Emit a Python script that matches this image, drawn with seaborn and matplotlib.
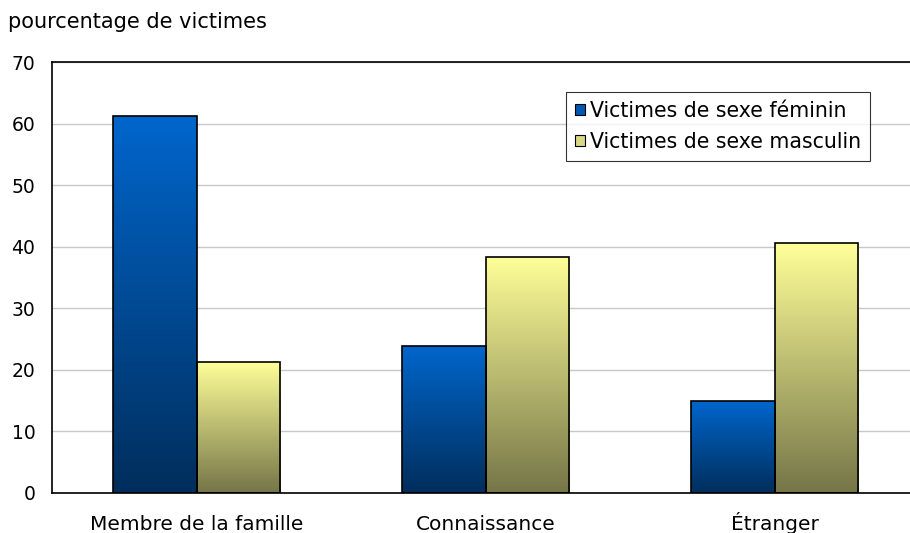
import numpy as np
import pandas as pd
import seaborn as sns
import matplotlib.pyplot as plt
from matplotlib.colors import LinearSegmentedColormap
from matplotlib.patches import Patch

sns.set_style("white")
plt.rcParams['font.family'] = ['DejaVu Sans']
plt.rcParams['text.color'] = 'black'
plt.rcParams['xtick.color'] = 'black'
plt.rcParams['ytick.color'] = 'black'

# data
categories = ["Membre de la famille", "Connaissance", "Étranger"]
series = ["Victimes de sexe féminin", "Victimes de sexe masculin"]
female = [61.2, 23.9, 15.0]
male = [21.3, 38.4, 40.6]
yticks = [0, 10, 20, 30, 40, 50, 60, 70]

df = pd.DataFrame({
    "cat": categories * 2,
    "serie": [series[0]] * 3 + [series[1]] * 3,
    "val": female + male,
})

# gradients top -> bottom
grad = {
    series[0]: ("#0066CC", "#002E5C"),
    series[1]: ("#FFFF99", "#757548"),
}

fig = plt.figure(figsize=(9.10, 5.33), dpi=100)
ax = fig.add_axes([52 / 910, 40 / 533, 867 / 910, 431 / 533])

sns.barplot(data=df, x="cat", y="val", hue="serie", hue_order=series,
            order=categories, width=0.58, ax=ax, legend=False,
            edgecolor="black", linewidth=1.2, saturation=1)

ax.set_xlim(-0.5, 2.5)
ax.set_ylim(0, 70)

for cont, s in zip(ax.containers, series):
    cmap = LinearSegmentedColormap.from_list(s, [grad[s][1], grad[s][0]])
    for p in cont:
        x, y0 = p.get_x(), p.get_y()
        w, h = p.get_width(), p.get_height()
        g = np.linspace(0, 1, 256).reshape(-1, 1)
        im = ax.imshow(g, cmap=cmap, origin="lower", aspect="auto",
                       extent=[x, x + w, y0, y0 + h], zorder=p.get_zorder() - 0.1)
        im.set_clip_path(p)
        p.set_facecolor("none")

ax.set_xlim(-0.5, 2.5)
ax.set_ylim(0, 70)
ax.set_yticks(yticks)
ax.yaxis.grid(True, color="#C8C8C8", linewidth=1)
ax.set_axisbelow(True)

ax.set_xlabel("")
ax.set_ylabel("")
ax.tick_params(axis="y", length=0, labelsize=13.5, pad=12)
ax.tick_params(axis="x", which="major", length=0, labelsize=14.5, pad=26.5)
for lab in ax.get_xticklabels():
    lab.set_verticalalignment("baseline")
ax.set_xticks([-0.5, 0.5, 1.5, 2.5], minor=True)
ax.tick_params(axis="x", which="minor", length=6, width=1, color="black", direction="out")

for sp in ["left", "top", "bottom"]:
    ax.spines[sp].set_color("black")
    ax.spines[sp].set_linewidth(1.2)
ax.spines["right"].set_visible(False)

fig.text(8 / 910, 1 - 22 / 533, "pourcentage de victimes", fontsize=15,
         va="center", ha="left")

handles = [Patch(facecolor="#0058B0", edgecolor="black", linewidth=0.8),
           Patch(facecolor="#D8D888", edgecolor="black", linewidth=0.8)]
leg = fig.legend(handles, series, loc="upper left",
                 bbox_to_anchor=(566 / 910, 1 - 92 / 533), fontsize=14.8,
                 frameon=True, fancybox=False, edgecolor="black",
                 handlelength=0.45, handleheight=0.45, handletextpad=0.25,
                 borderpad=0.45, labelspacing=0.5, borderaxespad=0)
leg.get_frame().set_linewidth(0.8)

fig.savefig("out.png", dpi=100)
